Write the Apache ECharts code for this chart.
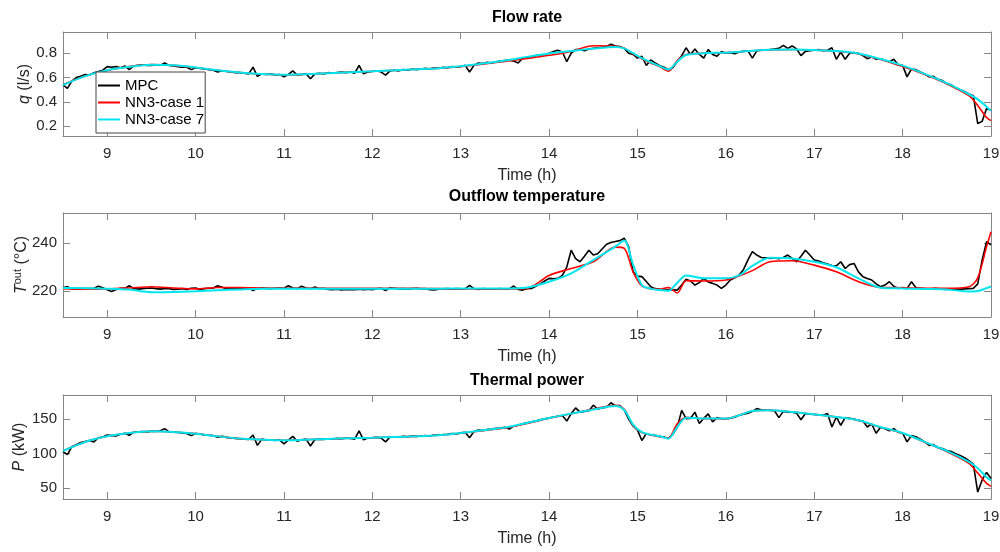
<!DOCTYPE html>
<html>
<head>
<meta charset="utf-8">
<script src="https://cdn.jsdelivr.net/npm/echarts@6/dist/echarts.min.js"></script>
<style>html,body{margin:0;padding:0;background:#fff}#c{width:1000px;height:552px}</style>
</head>
<body>
<div id="c"></div>
<script>
// ---------- DATA ----------
const xTicks = [9,10,11,12,13,14,15,16,17,18,19];
const qTicks = [0.2,0.4,0.6,0.8];
const tTicks = [220,240];
const pTicks = [50,100,150];
const seriesNames = ['MPC','NN3-case 1','NN3-case 7'];

// MPC time grid (h)
const mpcT = [
8.5,8.55,8.6,8.65,8.7,8.75,8.8,8.85,8.9,8.95,
9,9.05,9.1,9.15,9.2,9.25,9.3,9.35,9.4,9.45,9.5,9.55,9.6,9.65,9.7,9.75,9.8,9.85,9.9,9.95,
10,10.05,10.1,10.15,10.2,10.25,10.3,10.35,10.4,10.45,10.5,10.55,10.6,10.65,10.7,10.75,10.8,10.85,10.9,10.95,
11,11.05,11.1,11.15,11.2,11.25,11.3,11.35,11.4,11.45,11.5,11.55,11.6,11.65,11.7,11.75,11.8,11.85,11.9,11.95,
12,12.05,12.1,12.15,12.2,12.25,12.3,12.35,12.4,12.45,12.5,12.55,12.6,12.65,12.7,12.75,12.8,12.85,12.9,12.95,
13,13.05,13.1,13.15,13.2,13.25,13.3,13.35,13.4,13.45,13.5,13.55,13.6,13.65,13.7,13.75,13.8,13.85,13.9,13.95,
14,14.05,14.1,14.15,14.2,14.25,14.3,14.35,14.4,14.45,14.5,14.55,14.6,14.65,14.7,14.75,14.8,14.85,14.9,14.95,
15,15.05,15.1,15.15,15.2,15.25,15.3,15.35,15.4,15.45,15.5,15.55,15.6,15.65,15.7,15.75,15.8,15.85,15.9,15.95,
16,16.05,16.1,16.15,16.2,16.25,16.3,16.35,16.4,16.45,16.5,16.55,16.6,16.65,16.7,16.75,16.8,16.85,16.9,16.95,
17,17.05,17.1,17.15,17.2,17.25,17.3,17.35,17.4,17.45,17.5,17.55,17.6,17.65,17.7,17.75,17.8,17.85,17.9,17.95,
18,18.05,18.1,18.15,18.2,18.25,18.3,18.35,18.4,18.45,18.5,18.55,18.6,18.65,18.7,18.75,18.8,18.85,18.9,18.95,
19];

// Flow rate q (l/s) - MPC
const mpcQ = [
0.54,0.51,0.57,0.60,0.61,0.625,0.62,0.64,0.65,0.66,
0.69,0.685,0.69,0.68,0.695,0.665,0.695,0.70,0.705,0.70,0.70,0.705,0.70,0.72,0.70,0.695,0.69,0.685,0.685,0.665,
0.68,0.675,0.67,0.665,0.66,0.645,0.655,0.65,0.645,0.64,0.64,0.635,0.63,0.685,0.61,0.63,0.625,0.63,0.62,0.625,
0.605,0.625,0.655,0.62,0.625,0.63,0.59,0.63,0.635,0.63,0.64,0.635,0.64,0.645,0.64,0.645,0.635,0.70,0.63,0.645,
0.65,0.655,0.645,0.62,0.655,0.66,0.655,0.665,0.66,0.67,0.665,0.67,0.675,0.67,0.68,0.675,0.685,0.68,0.69,0.685,
0.69,0.70,0.645,0.70,0.72,0.715,0.725,0.72,0.73,0.735,0.74,0.745,0.735,0.72,0.76,0.765,0.77,0.78,0.785,0.79,
0.80,0.815,0.825,0.81,0.73,0.80,0.83,0.83,0.82,0.835,0.84,0.845,0.85,0.855,0.875,0.86,0.855,0.84,0.80,0.79,
0.76,0.775,0.70,0.745,0.72,0.70,0.685,0.665,0.68,0.73,0.78,0.845,0.79,0.835,0.79,0.76,0.83,0.79,0.775,0.815,
0.80,0.805,0.795,0.81,0.815,0.82,0.76,0.82,0.825,0.825,0.83,0.835,0.84,0.865,0.84,0.86,0.835,0.78,0.815,0.82,
0.825,0.83,0.82,0.825,0.845,0.75,0.81,0.75,0.80,0.805,0.80,0.78,0.755,0.77,0.75,0.755,0.74,0.73,0.75,0.705,
0.70,0.605,0.67,0.665,0.645,0.63,0.605,0.61,0.585,0.575,0.55,0.54,0.515,0.50,0.485,0.465,0.45,0.22,0.24,0.345,
0.33];

// Outflow temperature (°C) - MPC
const mpcTout = [
221.5,221.8,221,220.8,220.9,221,221,221.2,222,221.4,
220.5,219.8,220.6,221.2,221.1,222.2,221,220.8,221,221.2,221.3,221,220.8,221,221,220.7,220.8,221,220.7,221.2,
221.3,220.7,221,221.2,221.3,222.2,221.6,221,221.2,221,220.9,221,221.3,220.2,221.2,221.4,221.1,221,221.2,221.3,
221.2,222.2,221.3,221,222,221.3,221,221.7,221,221.2,220.7,220.6,220.8,220.5,220.7,220.6,220.6,220.8,220.6,220.8,
220.6,221,221.2,220.2,221.4,221.2,220.9,221,220.8,221,221.2,220.9,221,220.6,220.5,220.8,220.9,221,220.8,221,
220.9,220.9,222.4,221,220.7,221,220.8,220.9,220.8,221.1,220.8,220.9,222.1,220.7,220.4,221,221.1,222,223,224.2,
225.3,225.1,225.3,226.5,230,237,233.5,232.2,234.5,237,235,235.5,237.5,239.5,240.2,240.6,241,242,238.5,228,
226.2,226,224,221.8,221,220.7,220.4,220.6,220.5,220.4,222.5,224.9,224.2,222.5,223.5,225.3,223.8,223.2,222.5,221.1,
222.5,224.6,225.5,226.7,229,233,236.4,235,234,233.8,233.6,233.8,233.5,234,235,233.6,232.2,234.5,237,235,
232.9,232.5,231.8,231.3,230.6,230.5,232.2,229.4,231,231.5,228,226,225.2,224.6,223,221.8,222.5,223.9,222,221.1,
221.5,221,223.9,221.5,221.1,221,220.8,221.1,221,220.8,220.7,220.9,220.8,220.7,220.9,221,221.1,223,233,240.6,
239.2];

// Thermal power (kW) - MPC
const mpcP = [
103,98.5,110,113,116,117.5,119,117,123,124,
127,126,125.5,128,129.5,126.5,131,131.5,132,131.5,132.5,132,133,136,131.5,131,130.5,130,129,126,
129,128.5,127,126.5,126,123.5,125,123.5,122.5,122,121.5,121,120.5,127,112,121,119.5,120,119,120,
114,119.5,125,118,120,121,111,120.5,121,120.5,121.5,121,122,121.5,122.5,122,121,133,120,122.5,
123,123.5,122.5,117,124,124.5,124,125,124.5,125.5,125,125.5,126,125.5,127,126.5,127.5,128,129,128.5,
130,131,123,132,134,133.5,135,135.5,136.5,137,138,135.5,140,141,143,144.5,146,147,149,150.5,
151.5,153,154,155,147,158,166,160,161,162,170,164.5,166,167,173.5,169,169.5,163,150,140,
134,119,129,127,126.5,125,124,122,128,138,162.5,150.5,151,160,143.5,151,157.5,146,152,150.5,
150.5,151,152.5,155.5,157,158.5,161,165,163.5,163,162.5,162,152,161,160,160,158.5,149,158,157,
156.5,156,155.5,158,138.5,153,141,152,151,150,148,147,138.5,143,129.5,138,136,133,136,131,
129.5,117,126,124.5,121,117,112,113,109,107.5,104.5,103,100,97.5,94,90,85,44.6,62,73,
64];

// NN time grid (h)
const nnT = [8.5,8.75,9,9.25,9.5,9.75,10,10.25,10.5,10.75,
11,11.25,11.5,11.75,12,12.25,12.5,12.75,13,13.25,
13.5,13.75,14,14.25,14.5,14.75,14.85,14.95,15.05,15.15,
15.25,15.35,15.45,15.55,15.75,16,16.15,16.3,16.5,16.75,
17,17.25,17.5,17.75,18,18.25,18.5,18.75,18.85,18.95,
19];

const nn1Q = [0.54,0.612,0.66,0.69,0.706,0.70,0.682,0.66,0.641,0.628,
0.622,0.627,0.635,0.643,0.651,0.66,0.668,0.677,0.69,0.71,
0.733,0.757,0.783,0.815,0.862,0.858,0.842,0.795,0.755,0.72,
0.69,0.652,0.74,0.79,0.80,0.805,0.812,0.82,0.828,0.831,
0.826,0.816,0.795,0.748,0.69,0.625,0.548,0.45,0.37,0.27,
0.245];
const nn7Q = [0.537,0.611,0.66,0.688,0.705,0.70,0.683,0.66,0.641,0.628,
0.622,0.627,0.635,0.643,0.651,0.66,0.668,0.677,0.693,0.715,
0.74,0.77,0.798,0.818,0.838,0.852,0.84,0.80,0.76,0.725,
0.695,0.665,0.73,0.785,0.80,0.805,0.812,0.82,0.828,0.831,
0.826,0.818,0.798,0.752,0.698,0.63,0.553,0.462,0.42,0.36,
0.325];

const nn1Tout = [221,220.8,220.9,221.3,221.8,221.3,220.9,221.5,221.5,221.3,
221.2,221.2,221.2,221.2,221.2,221.2,221.1,221,220.9,220.9,
220.9,221.1,226.5,229.4,232.2,238.3,237.8,228,222.1,221,
220.7,221.5,219.2,224.3,224.2,224.6,226.3,228.5,232.2,232.6,
230.8,228,223.9,221.5,221.4,221.2,221.1,221.8,225.5,238.5,
244.7];
const nn7Tout = [221.3,221.2,221,220.6,219.5,219.6,219.9,220.3,220.7,221,
221,221,221,221,221,221,221,221,221.1,221.1,
221.1,221.5,223.9,227.4,232.9,238.5,241,231,222.5,221,
220.4,220.1,223.5,226.5,225.3,225.3,226.5,230.5,233.9,233.6,
232.2,229.9,225.3,221.4,221.1,220.9,220.7,219.8,220,221.2,
221.9];

const nn1P = [104,117,125,129.9,132.3,131.3,128.9,125,121.7,120.2,
119.3,120.2,121.2,122.2,123.1,124.1,125,126.5,129.5,133,
137,143.5,151,157.5,164.5,170,164,141,130.5,127,
124.5,123,143,152.5,150.6,150.6,155.4,161.5,162.6,160.2,
156.8,153,148,138,129.5,116.5,103,86,72,57,
52.8];
const nn7P = [103.9,116.9,125,129.9,132.3,131.3,128.9,125,121.7,120.2,
119.3,120.2,121.2,122.2,123.1,124.1,125,126.5,129.9,133.7,
137.6,144.3,151.5,157.8,163.6,168.9,163,142,131,127.5,
125,121.7,138.5,152,150.6,150.6,155.4,161.5,162.6,160.2,
156.8,153,148.2,138.5,129.9,116.9,103.9,88,79,66,
61.5];

// ---------- CHART ----------
const FONT = 'Liberation Sans, Arial, Helvetica, sans-serif';
const AX = '#868686';
const TXT = '#262626';
const pair = (ts, vs) => ts.map((t, i) => [t, vs[i]]);

const grids = [
  {left: 63, top: 32, width: 928, height: 104, outerBoundsMode: 'none', containLabel: false},
  {left: 63, top: 213, width: 928, height: 104, outerBoundsMode: 'none', containLabel: false},
  {left: 63, top: 395, width: 928, height: 104, outerBoundsMode: 'none', containLabel: false}
];
const yCfg = [
  {min: 0.118, max: 0.975, ticks: qTicks, name: '{it|q}{n| (l/s)}', gap: 28},
  {min: 209.2, max: 252.5, ticks: tTicks, name: '{it|T}{sup|out}{n| (°C)}', gap: 31},
  {min: 34.5, max: 184.7, ticks: pTicks, name: '{it|P}{n| (kW)}', gap: 33}
];
const panels = [[mpcQ, nn1Q, nn7Q], [mpcTout, nn1Tout, nn7Tout], [mpcP, nn1P, nn7P]];

const xAxis = [], yAxis = [], series = [];
grids.forEach((g, i) => {
  const tickBase = {inside: true, length: 7, lineStyle: {color: AX, width: 1}};
  xAxis.push({
    type: 'value', gridIndex: i, min: 8.5, max: 19, position: 'bottom',
    axisLine: {show: true, onZero: false, lineStyle: {color: AX, width: 1}},
    axisTick: Object.assign({customValues: xTicks}, tickBase),
    axisLabel: {customValues: xTicks, fontSize: 15, color: TXT, fontFamily: FONT, margin: 10},
    splitLine: {show: false},
    name: 'Time (h)', nameLocation: 'middle', nameGap: 32, nameMoveOverlap: false,
    nameTextStyle: {fontSize: 16, color: TXT, fontFamily: FONT}
  });
  xAxis.push({
    type: 'value', gridIndex: i, min: 8.5, max: 19, position: 'top',
    axisLine: {show: true, onZero: false, lineStyle: {color: AX, width: 1}},
    axisTick: Object.assign({customValues: xTicks}, tickBase),
    axisLabel: {show: false},
    splitLine: {show: false}
  });
  const c = yCfg[i];
  yAxis.push({
    type: 'value', gridIndex: i, min: c.min, max: c.max, position: 'left',
    axisLine: {show: true, onZero: false, lineStyle: {color: AX, width: 1}},
    axisTick: Object.assign({customValues: c.ticks}, tickBase),
    axisLabel: {customValues: c.ticks, fontSize: 15, color: TXT, fontFamily: FONT, margin: 6},
    splitLine: {show: false},
    name: c.name, nameLocation: 'middle', nameRotate: 90, nameGap: c.gap, nameMoveOverlap: false,
    nameTextStyle: {
      fontSize: 16, color: TXT, fontFamily: FONT,
      rich: {
        it: {fontSize: 16, fontStyle: 'italic', color: TXT, fontFamily: FONT, lineHeight: 20},
        sup: {fontSize: 11, color: TXT, fontFamily: FONT, verticalAlign: 'top', lineHeight: 20},
        n: {fontSize: 16, color: TXT, fontFamily: FONT, lineHeight: 20}
      }
    }
  });
  yAxis.push({
    type: 'value', gridIndex: i, min: c.min, max: c.max, position: 'right',
    axisLine: {show: true, onZero: false, lineStyle: {color: AX, width: 1}},
    axisTick: Object.assign({customValues: c.ticks}, tickBase),
    axisLabel: {show: false},
    splitLine: {show: false}
  });
  const [m, a, b] = panels[i];
  series.push({name: seriesNames[0], type: 'line', xAxisIndex: 2*i, yAxisIndex: 2*i,
    data: pair(mpcT, m), symbol: 'none', lineStyle: {color: '#000', width: 1.6}, itemStyle: {color: '#000'}, z: 2});
  series.push({name: seriesNames[1], type: 'line', xAxisIndex: 2*i, yAxisIndex: 2*i,
    data: pair(nnT, a), symbol: 'none', smooth: 0.3, lineStyle: {color: '#ff0000', width: 1.6}, itemStyle: {color: '#ff0000'}, z: 3});
  series.push({name: seriesNames[2], type: 'line', xAxisIndex: 2*i, yAxisIndex: 2*i,
    data: pair(nnT, b), symbol: 'none', smooth: 0.3, lineStyle: {color: '#00e5ee', width: 2}, itemStyle: {color: '#00e5ee'}, z: 4});
});

const titles = [['Flow rate', 18], ['Outflow temperature', 197], ['Thermal power', 381]];
const graphic = titles.map(([t, y]) => ({
  type: 'text', x: 527, y: y, silent: true,
  style: {text: t, align: 'center', verticalAlign: 'middle', font: 'bold 16px ' + FONT, fill: '#000'}
}));

const chart = echarts.init(document.getElementById('c'), null, {renderer: 'canvas'});
chart.setOption({
  animation: false,
  backgroundColor: '#fff',
  grid: grids,
  xAxis, yAxis, series, graphic,
  legend: {
    data: seriesNames, orient: 'vertical', left: 96, top: 72,
    icon: 'rect', itemWidth: 22, itemHeight: 2, itemGap: 2,
    padding: [6, 1, 6, 2],
    backgroundColor: '#fff', borderColor: '#444', borderWidth: 1,
    textStyle: {fontSize: 15, color: '#000', fontFamily: FONT},
    z: 10
  }
});
</script>
</body>
</html>
